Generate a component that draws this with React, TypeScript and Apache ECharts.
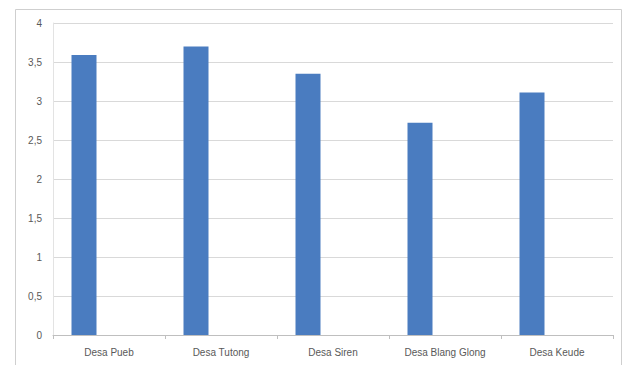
import React, { useEffect, useRef } from "react";
import * as echarts from "echarts";

const categories = ["Desa Pueb", "Desa Tutong", "Desa Siren", "Desa Blang Glong", "Desa Keude"];
const values = [3.59, 3.7, 3.35, 2.72, 3.11];
const emptySeries: (number | null)[] = [null, null, null, null, null];

export default function App() {
  const ref = useRef<HTMLDivElement>(null);
  useEffect(() => {
    document.body.style.margin = "0";
    const chart = echarts.init(ref.current!, null, { renderer: "svg" });
    chart.setOption({
      animation: false,
      backgroundColor: "#ffffff",
      textStyle: { fontFamily: "Liberation Sans" },
      grid: { left: 53, right: 14, top: 23, bottom: 30 },
      graphic: [
        {
          type: "rect",
          shape: { x: 15.5, y: 9.5, width: 606, height: 370 },
          style: { fill: "none", stroke: "#cfcfcf", lineWidth: 1 },
          silent: true,
        },
      ],
      xAxis: {
        type: "category",
        data: categories,
        axisLine: { show: true, lineStyle: { color: "#bfbfbf" } },
        axisTick: { show: true, length: 4, lineStyle: { color: "#bfbfbf" } },
        axisLabel: { color: "#595959", fontSize: 10, margin: 12 },
      },
      yAxis: {
        type: "value",
        min: 0,
        max: 4,
        interval: 0.5,
        axisLine: { show: true, lineStyle: { color: "#e3e3e3" } },
        axisTick: { show: false },
        splitLine: { lineStyle: { color: "#d9d9d9" } },
        axisLabel: {
          color: "#595959",
          fontSize: 10,
          margin: 11,
          formatter: (v: number) => String(v).replace(".", ","),
        },
      },
      series: [
        { type: "bar", data: values, barWidth: 25, barGap: "0%", itemStyle: { color: "#4a7cc0" } },
        { type: "bar", data: emptySeries, barWidth: 25, barGap: "0%" },
        { type: "bar", data: emptySeries, barWidth: 25, barGap: "0%" },
      ],
    });
    return () => chart.dispose();
  }, []);
  return <div ref={ref} style={{ width: 627, height: 365 }} />;
}
